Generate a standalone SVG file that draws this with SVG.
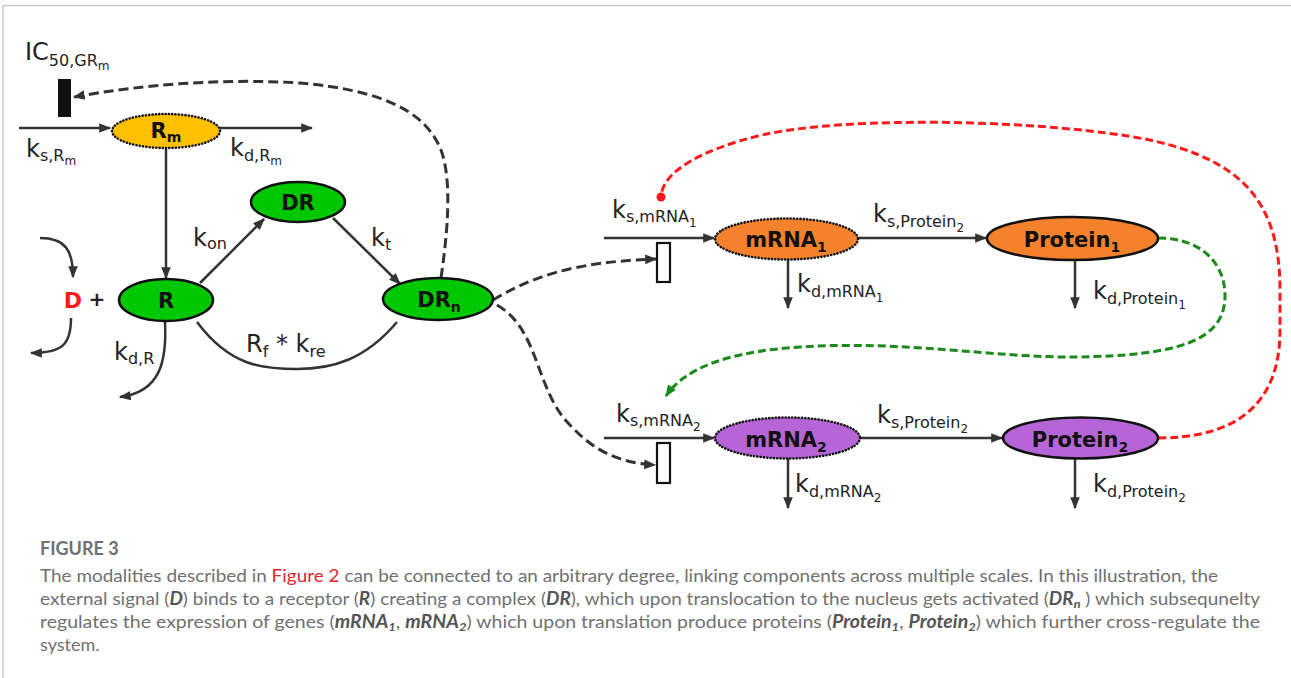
<svg xmlns="http://www.w3.org/2000/svg" width="1291" height="678" viewBox="0 0 1291 678">
<style>
.ln{fill:none;stroke:#333;stroke-width:2.5}
.dash{fill:none;stroke:#333;stroke-width:3;stroke-dasharray:10 5}
.red{fill:none;stroke:#ff1a1a;stroke-width:3;stroke-dasharray:8 4}
.grn{fill:none;stroke:#1a8a1a;stroke-width:3;stroke-dasharray:8 4}
.solid{stroke:#111;stroke-width:2.5}
.dot{stroke:#111;stroke-width:2.6;stroke-dasharray:0.1 3.2;stroke-linecap:round}
.nl{font-family:"DejaVu Sans",Verdana,sans-serif;font-weight:bold;font-size:21px;fill:#111;text-anchor:middle}
.ns{font-size:14px}
.kl{font-family:"DejaVu Sans",Verdana,sans-serif;font-size:24px;fill:#222}
.s1{font-size:16px}
.s2{font-size:12px}
.cap{font-family:Lato,"Open Sans","Liberation Sans",sans-serif;font-size:18px;fill:#707070}
.bi{font-weight:bold;font-style:italic;fill:#555}
</style>
<defs>
<marker id="ah" viewBox="0 0 10 10" refX="9" refY="5" markerWidth="12" markerHeight="12" markerUnits="userSpaceOnUse" orient="auto"><path d="M0,1 L10,5 L0,9 z" fill="#333" stroke="none"/></marker>
<marker id="ahg" viewBox="0 0 10 10" refX="9" refY="5" markerWidth="12" markerHeight="12" markerUnits="userSpaceOnUse" orient="auto"><path d="M0,1 L10,5 L0,9 z" fill="#1a8a1a" stroke="none"/></marker>
<marker id="dotr" viewBox="0 0 10 10" refX="5" refY="5" markerWidth="10" markerHeight="10" markerUnits="userSpaceOnUse"><circle cx="5" cy="5" r="4.5" fill="#ff1a1a" stroke="none"/></marker>
</defs>
<rect width="1291" height="678" fill="#fff"/>
<path d="M3,678 V5.5 H1291" fill="none" stroke="#c9c9c9" stroke-width="1.5"/>

<g id="connectors">
<path class="ln" d="M19,128 H110" marker-end="url(#ah)"/>
<path class="ln" d="M220,128 H312" marker-end="url(#ah)"/>
<path class="ln" d="M166,149 V278" marker-end="url(#ah)"/>
<path class="ln" d="M200,283 L264,219" marker-end="url(#ah)"/>
<path class="ln" d="M333,218 L400,284" marker-end="url(#ah)"/>
<path class="ln" d="M197,322 C230,366 262,369 297,369 C332,369 365,360 397,322"/>
<path class="ln" d="M165,322 C167,362 160,392 120,397" marker-end="url(#ah)"/>
<path class="ln" d="M40,238 C65,238 73,250 73,277" marker-end="url(#ah)"/>
<path class="ln" d="M71,318 C71,345 62,353 31,353" marker-end="url(#ah)"/>
<path class="dash" d="M441,278 C448,230 452,180 441,150 C425,110 380,90 300,83 C220,78 140,85 74,97" marker-end="url(#ah)"/>
<path class="dash" d="M493,300 C530,278 570,262 656,259" marker-end="url(#ah)"/>
<path class="dash" d="M497,305 C540,330 535,390 570,425 C595,452 620,463 655,465" marker-end="url(#ah)"/>
<path class="ln" d="M604,238 H714" marker-end="url(#ah)"/>
<path class="ln" d="M858,238 H986" marker-end="url(#ah)"/>
<path class="ln" d="M788,260 V308" marker-end="url(#ah)"/>
<path class="ln" d="M1075,260 V308" marker-end="url(#ah)"/>
<path class="ln" d="M604,438 H714" marker-end="url(#ah)"/>
<path class="ln" d="M860,438 H1002" marker-end="url(#ah)"/>
<path class="ln" d="M788,458 V508" marker-end="url(#ah)"/>
<path class="ln" d="M1075,458 V508" marker-end="url(#ah)"/>
<path class="grn" d="M1158,238 C1200,238 1225,262 1225,296 C1225,340 1180,356 1073,357 C1000,358 900,340 800,347 C720,352 682,372 666,396" marker-end="url(#ahg)"/>
<path class="red" d="M1158,438 C1232,438 1280,408 1280,330 L1280,290 C1280,200 1240,160 1150,140 C1050,120 850,115 762,135 C700,150 662,172 661,197" marker-end="url(#dotr)"/>
</g>

<g id="inhibitor-IC50"><rect x="58" y="79" width="13" height="38" fill="#111"/></g>
<g id="gate-mRNA1"><rect x="657" y="243" width="13" height="39" fill="#fff" stroke="#111" stroke-width="2.2"/></g>
<g id="gate-mRNA2"><rect x="657" y="443" width="13" height="40" fill="#fff" stroke="#111" stroke-width="2.2"/></g>

<g id="node-Rm"><ellipse cx="166" cy="131" rx="54" ry="17" fill="#ffc000" class="dot"/><text class="nl" x="166" y="138">R<tspan class="ns" dy="4">m</tspan></text></g>
<g id="node-R"><ellipse cx="166" cy="300" rx="47" ry="21" fill="#00c800" class="solid"/><text class="nl" x="166" y="308">R</text></g>
<g id="node-DR"><ellipse cx="298" cy="202" rx="47" ry="20" fill="#00c800" class="solid"/><text class="nl" x="298" y="210">DR</text></g>
<g id="node-DRn"><ellipse cx="438" cy="299" rx="55" ry="21" fill="#00c800" class="solid"/><text class="nl" x="439" y="307">DR<tspan class="ns" dy="5">n</tspan></text></g>
<g id="node-D"><text x="73" y="308" font-family="DejaVu Sans,Verdana,sans-serif" font-weight="bold" font-size="22" fill="#ff1a1a" text-anchor="middle">D</text><text x="97" y="306" font-family="DejaVu Sans,Verdana,sans-serif" font-weight="bold" font-size="20" fill="#222" text-anchor="middle">+</text></g>
<g id="node-mRNA1"><ellipse cx="786.5" cy="239" rx="71.5" ry="20.5" fill="#f4812c" class="dot"/><text class="nl" x="786" y="247">mRNA<tspan class="ns" dy="5">1</tspan></text></g>
<g id="node-mRNA2"><ellipse cx="787.5" cy="438" rx="72.5" ry="20.5" fill="#b565d6" class="dot"/><text class="nl" x="786" y="447">mRNA<tspan class="ns" dy="5">2</tspan></text></g>
<g id="node-Protein1"><ellipse cx="1072.5" cy="238.5" rx="85.5" ry="21.5" fill="#f4812c" class="solid"/><text class="nl" x="1072" y="247">Protein<tspan class="ns" dy="5">1</tspan></text></g>
<g id="node-Protein2"><ellipse cx="1080.5" cy="438" rx="77.5" ry="20.5" fill="#b565d6" class="solid"/><text class="nl" x="1080" y="447">Protein<tspan class="ns" dy="5">2</tspan></text></g>

<g id="labels">
<text class="kl" x="25" y="60">IC<tspan class="s1" dy="6">50,GR</tspan><tspan class="s2" dy="4">m</tspan></text>
<text class="kl" x="26" y="157">k<tspan class="s1" dy="4">s,R</tspan><tspan class="s2" dy="4">m</tspan></text>
<text class="kl" x="230" y="156">k<tspan class="s1" dy="5">d,R</tspan><tspan class="s2" dy="4">m</tspan></text>
<text class="kl" x="193" y="246">k<tspan class="s1" dy="3">on</tspan></text>
<text class="kl" x="371" y="246">k<tspan class="s1" dy="4">t</tspan></text>
<text class="kl" x="246" y="352">R<tspan class="s1" dy="5">f</tspan><tspan dy="-5"> * k</tspan><tspan class="s1" dy="5">re</tspan></text>
<text class="kl" x="114" y="360">k<tspan class="s1" dy="4">d,R</tspan></text>
<text class="kl" x="612" y="218">k<tspan class="s1" dy="4">s,mRNA</tspan><tspan class="s2" dy="5">1</tspan></text>
<text class="kl" x="797" y="292">k<tspan class="s1" dy="5">d,mRNA</tspan><tspan class="s2" dy="5">1</tspan></text>
<text class="kl" x="873" y="222">k<tspan class="s1" dy="5">s,Protein</tspan><tspan class="s2" dy="5">2</tspan></text>
<text class="kl" x="1093" y="299">k<tspan class="s1" dy="5">d,Protein</tspan><tspan class="s2" dy="5">1</tspan></text>
<text class="kl" x="616" y="422">k<tspan class="s1" dy="4">s,mRNA</tspan><tspan class="s2" dy="5">2</tspan></text>
<text class="kl" x="795" y="492">k<tspan class="s1" dy="5">d,mRNA</tspan><tspan class="s2" dy="5">2</tspan></text>
<text class="kl" x="877" y="423">k<tspan class="s1" dy="5">s,Protein</tspan><tspan class="s2" dy="5">2</tspan></text>
<text class="kl" x="1093" y="492">k<tspan class="s1" dy="5">d,Protein</tspan><tspan class="s2" dy="5">2</tspan></text>
</g>

<g id="caption">
<text class="cap" x="40" y="555" font-weight="bold" fill="#666" font-size="18">FIGURE 3</text>
<text class="cap" x="40" y="582" textLength="1178" lengthAdjust="spacingAndGlyphs">The modalities described in <tspan fill="#e8262d">Figure 2</tspan> can be connected to an arbitrary degree, linking components across multiple scales. In this illustration, the</text>
<text class="cap" x="40" y="605" textLength="1220" lengthAdjust="spacingAndGlyphs">external signal (<tspan class="bi">D</tspan>) binds to a receptor (<tspan class="bi">R</tspan>) creating a complex (<tspan class="bi">DR</tspan>), which upon translocation to the nucleus gets activated (<tspan class="bi">DR</tspan><tspan class="bi" font-size="12" dy="3">n</tspan><tspan dy="-3"> ) which subsequnelty</tspan></text>
<text class="cap" x="40" y="628" textLength="1220" lengthAdjust="spacingAndGlyphs">regulates the expression of genes (<tspan class="bi">mRNA</tspan><tspan class="bi" font-size="12" dy="3">1</tspan><tspan dy="-3">, </tspan><tspan class="bi">mRNA</tspan><tspan class="bi" font-size="12" dy="3">2</tspan><tspan dy="-3">) which upon translation produce proteins (</tspan><tspan class="bi">Protein</tspan><tspan class="bi" font-size="12" dy="3">1</tspan><tspan dy="-3">, </tspan><tspan class="bi">Protein</tspan><tspan class="bi" font-size="12" dy="3">2</tspan><tspan dy="-3">) which further cross-regulate the</tspan></text>
<text class="cap" x="40" y="651">system.</text>
</g>
</svg>
